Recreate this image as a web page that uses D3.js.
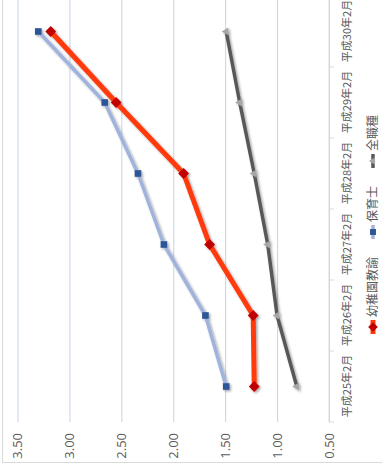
<!DOCTYPE html>
<html>
<head>
<meta charset="utf-8">
<script src="https://cdn.jsdelivr.net/npm/d3@7"></script>
<style>
  body { margin: 0; background: #fff; }
  svg { display: block; }
  .tick text { fill: #595959; }
</style>
</head>
<body>
<svg width="382" height="472"></svg>
<script>
// 有効求人倍率 (chart is drawn normally, then turned -90deg)
const categories = ["平成25年2月", "平成26年2月", "平成27年2月", "平成28年2月", "平成29年2月", "平成30年2月"];
const kindergarten = [1.22, 1.23, 1.65, 1.90, 2.55, 3.18];
const nursery = [1.49, 1.69, 2.09, 2.34, 2.66, 3.30];
const allJobs = [0.81, 1.00, 1.09, 1.22, 1.36, 1.49];
const yTicks = [0.5, 1.0, 1.5, 2.0, 2.5, 3.0, 3.5];

const series = [
  { name: "幼稚園教諭", values: kindergarten, line: "#ff3a0a", width: 5, marker: "#c00000", symbol: d3.symbolDiamond2, size: 75 },
  { name: "保育士", values: nursery, line: "#9fb3dc", width: 3.5, marker: "#2f5597", symbol: d3.symbolSquare2, size: 56 },
  { name: "全職種", values: allJobs, line: "#595959", width: 3.5, marker: "#a6a6a6", symbol: d3.symbolTriangle2, size: 45 }
];

let svg = d3.select("svg");

// outer frame
svg.append("rect")
  .attr("x", 2.5).attr("y", -10)
  .attr("width", 400).attr("height", 472.5)
  .attr("fill", "#fff").attr("stroke", "#d9d9d9");

let defs = svg.append("defs");
defs.append("filter").attr("id", "shadow")
  .attr("x", "-10%").attr("y", "-10%").attr("width", "120%").attr("height", "120%")
  .append("feDropShadow")
  .attr("dx", 1.5).attr("dy", 1.5).attr("stdDeviation", 1)
  .attr("flood-color", "#000").attr("flood-opacity", 0.35);

// u = along categories, v = along values (before turning)
let uLeft = 50, uRight = 476, vTop = 17.5, vBottom = 329;
let g = svg.append("g").attr("transform", "translate(0,472) rotate(-90)");

let x = d3.scalePoint().domain(categories).range([uLeft, uRight]).padding(0.5);
let y = d3.scaleLinear().domain([0.5, 3.5]).range([vBottom, vTop]);

// value grid + labels
let yAxis = g.append("g")
  .attr("transform", "translate(" + uLeft + ",0)")
  .call(d3.axisLeft(y).tickValues(yTicks).tickFormat(d3.format(".2f"))
    .tickSize(-(uRight - uLeft)).tickPadding(11));
yAxis.select(".domain").remove();
yAxis.selectAll(".tick line").attr("stroke", "#c5d4e8").attr("stroke-width", 1);
yAxis.selectAll(".tick text")
  .attr("font-family", "'Open Sans', sans-serif")
  .attr("font-size", 13);

// category axis
let xAxis = g.append("g")
  .attr("transform", "translate(0," + vBottom + ")")
  .call(d3.axisBottom(x).tickSize(0).tickPadding(14));
xAxis.select(".domain").remove();
xAxis.selectAll(".tick text")
  .attr("font-family", "'Noto Sans CJK JP', sans-serif")
  .attr("font-size", 11);

let step = x.step();
let bounds = categories.map((c) => x(c) - step / 2).concat([x(categories[categories.length - 1]) + step / 2]);
xAxis.selectAll(".bound")
  .data(bounds)
  .enter().append("line")
  .attr("class", "bound")
  .attr("x1", (d) => d).attr("x2", (d) => d)
  .attr("y1", 0).attr("y2", 5)
  .attr("stroke", "#d9d9d9");
xAxis.append("line")
  .attr("x1", uLeft).attr("x2", uRight)
  .attr("stroke", "#d9d9d9");

// series
let plot = svg.append("g").attr("filter", "url(#shadow)")
  .append("g").attr("transform", "translate(0,472) rotate(-90)");

let line = d3.line()
  .x((d, i) => x(categories[i]))
  .y((d) => y(d));

series.slice().reverse().forEach((s) => {
  plot.append("path")
    .datum(s.values)
    .attr("fill", "none")
    .attr("stroke", s.line)
    .attr("stroke-width", s.width)
    .attr("stroke-linejoin", "round")
    .attr("d", line);
  plot.selectAll(null)
    .data(s.values)
    .enter().append("path")
    .attr("transform", (d, i) => "translate(" + x(categories[i]) + "," + y(d) + ")")
    .attr("fill", s.marker)
    .attr("d", d3.symbol(s.symbol, s.size));
});

// legend
let legend = g.append("g").attr("transform", "translate(0,373)");
let pos = 138;
series.forEach((s) => {
  let item = legend.append("g").attr("transform", "translate(" + pos + ",0)");
  item.append("line")
    .attr("x1", 0).attr("x2", 14)
    .attr("stroke", s.line).attr("stroke-width", s.width);
  item.append("path")
    .attr("transform", "translate(7,0)")
    .attr("fill", s.marker)
    .attr("d", d3.symbol(s.symbol, s.size * 0.8));
  let t = item.append("text")
    .attr("x", 17)
    .attr("dy", "0.35em")
    .attr("fill", "#595959")
    .attr("font-family", "'Noto Sans CJK JP', sans-serif")
    .attr("font-size", 12)
    .text(s.name);
  pos += 17 + t.node().getComputedTextLength() + 18;
});
</script>
</body>
</html>
